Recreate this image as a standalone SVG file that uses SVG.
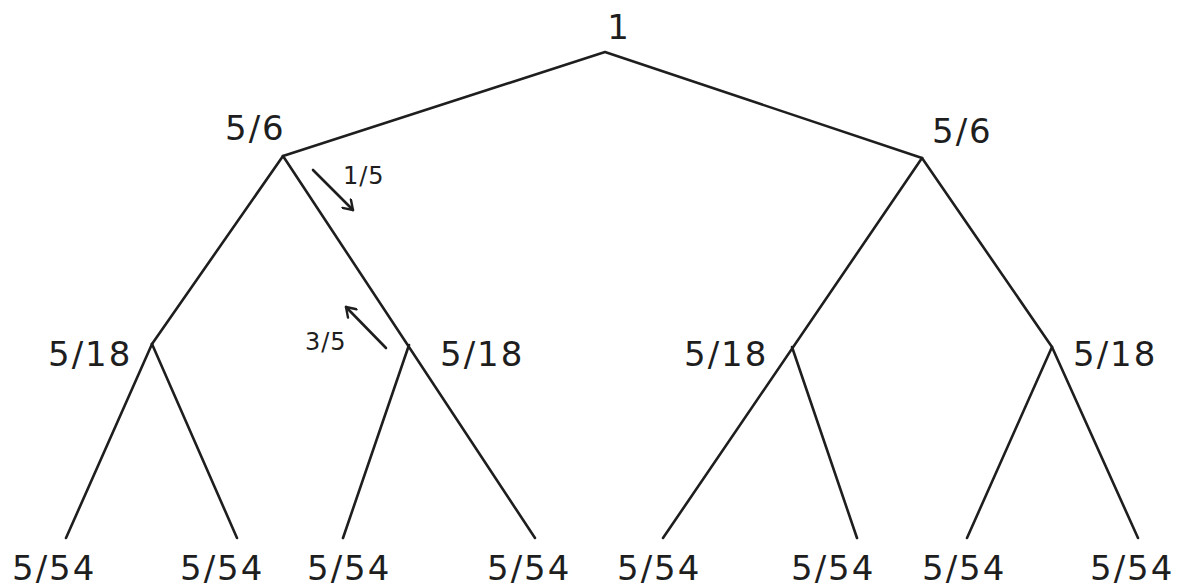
<svg xmlns="http://www.w3.org/2000/svg" width="1178" height="586" viewBox="0 0 1178 586">
<style>
.e{stroke:#1e1e1e;stroke-width:2.6;fill:none;stroke-linecap:round;stroke-linejoin:round}
.t{font-family:"DejaVu Sans",sans-serif;font-size:34px;fill:#1e1e1e;letter-spacing:2px}
.s{font-family:"DejaVu Sans",sans-serif;font-size:24px;fill:#1e1e1e;letter-spacing:1px}
</style>
<defs>
<marker id="ah" markerWidth="14" markerHeight="14" refX="12" refY="7" orient="auto" markerUnits="userSpaceOnUse">
<path d="M3,1 L12,7 L3,13" fill="none" stroke="#1e1e1e" stroke-width="2.4" stroke-linecap="round" stroke-linejoin="round"/>
</marker>
</defs>
<rect width="1178" height="586" fill="#ffffff"/>
<g id="connectors">
<path class="e" d="M283,156 L605,52 L922,158"/>
<path class="e" d="M283,156 L152,344"/>
<path class="e" d="M283,156 L535,538"/>
<path class="e" d="M152,344 L66,538"/>
<path class="e" d="M152,344 L237,538"/>
<path class="e" d="M409,345 L343,538"/>
<path class="e" d="M922,158 L663,538"/>
<path class="e" d="M792,347 L857,538"/>
<path class="e" d="M922,158 L1052,347 L1138,538"/>
<path class="e" d="M1052,347 L967,538"/>
<path class="e" d="M313,170 L353,210" marker-end="url(#ah)"/>
<path class="e" d="M386,348 L346,307" marker-end="url(#ah)"/>
</g>
<g id="n-root"><text class="t" x="619" y="39" text-anchor="middle">1</text></g>
<g id="n-l"><text class="t" x="225" y="140">5/6</text></g>
<g id="n-r"><text class="t" x="932" y="143">5/6</text></g>
<g id="lbl-15"><text class="s" x="343" y="184">1/5</text></g>
<g id="lbl-35"><text class="s" x="305" y="350">3/5</text></g>
<g id="n-ll"><text class="t" x="48" y="366">5/18</text></g>
<g id="n-lr"><text class="t" x="440" y="366">5/18</text></g>
<g id="n-rl"><text class="t" x="684" y="366">5/18</text></g>
<g id="n-rr"><text class="t" x="1073" y="366">5/18</text></g>
<g id="leaf1"><text class="t" x="12" y="580">5/54</text></g>
<g id="leaf2"><text class="t" x="180" y="580">5/54</text></g>
<g id="leaf3"><text class="t" x="307" y="580">5/54</text></g>
<g id="leaf4"><text class="t" x="487" y="580">5/54</text></g>
<g id="leaf5"><text class="t" x="617" y="580">5/54</text></g>
<g id="leaf6"><text class="t" x="791" y="580">5/54</text></g>
<g id="leaf7"><text class="t" x="922" y="580">5/54</text></g>
<g id="leaf8"><text class="t" x="1090" y="580">5/54</text></g>
</svg>
